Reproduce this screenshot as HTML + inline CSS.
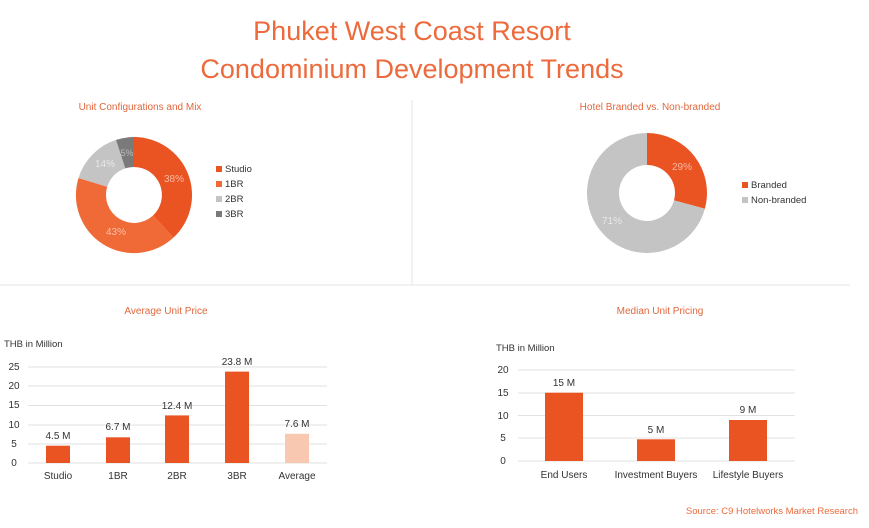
<!DOCTYPE html>
<html><head><meta charset="utf-8"><style>
body{margin:0;background:#fff;}
svg{display:block;font-family:"Liberation Sans",sans-serif;}
</style></head><body>
<svg width="869" height="528" viewBox="0 0 869 528">
<rect width="869" height="528" fill="#fff"/>
<text x="412" y="40" text-anchor="middle" font-size="27" fill="#ec6a3c">Phuket West Coast Resort</text>
<text x="412" y="78" text-anchor="middle" font-size="27" fill="#ec6a3c">Condominium Development Trends</text>
<line x1="412" y1="100" x2="412" y2="285" stroke="#e6e6e6"/>
<line x1="0" y1="285" x2="850" y2="285" stroke="#e6e6e6"/>
<text x="140" y="110" text-anchor="middle" font-size="10" fill="#e0673d">Unit Configurations and Mix</text>
<text x="650" y="110" text-anchor="middle" font-size="10" fill="#e0673d">Hotel Branded vs. Non-branded</text>
<text x="166" y="314" text-anchor="middle" font-size="10" fill="#e0673d">Average Unit Price</text>
<text x="660" y="314" text-anchor="middle" font-size="10" fill="#e0673d">Median Unit Pricing</text>
<g transform="translate(134,195)">
<path d="M0,-58 A58,58 0 0 1 39.4,42.6 L19,20.5 A28,28 0 0 0 0,-28Z" fill="#ea5423"/>
<path d="M39.4,42.6 A58,58 0 0 1 -55.5,-17 L-26.8,-8.2 A28,28 0 0 0 19,20.5Z" fill="#f06a38"/>
<path d="M-55.5,-17 A58,58 0 0 1 -18,-55.1 L-8.7,-26.6 A28,28 0 0 0 -26.8,-8.2Z" fill="#c4c4c4"/>
<path d="M-18,-55.1 A58,58 0 0 1 0,-58 L0,-28 A28,28 0 0 0 -8.7,-26.6Z" fill="#7a7a7a"/>
<text x="40" y="-13" font-size="10" fill="#f8b8a0" text-anchor="middle">38%</text>
<text x="-18" y="40" font-size="10" fill="#f8c0a8" text-anchor="middle">43%</text>
<text x="-29" y="-28" font-size="10" fill="#e8e8e8" text-anchor="middle">14%</text>
<text x="-7" y="-39" font-size="9" fill="#bbb" text-anchor="middle">5%</text>
</g>
<g font-size="9.5" fill="#333">
<rect x="216" y="166" width="6" height="6" fill="#ea5423"/><text x="225" y="172">Studio</text>
<rect x="216" y="181" width="6" height="6" fill="#f06a38"/><text x="225" y="187">1BR</text>
<rect x="216" y="196" width="6" height="6" fill="#c4c4c4"/><text x="225" y="202">2BR</text>
<rect x="216" y="211" width="6" height="6" fill="#7a7a7a"/><text x="225" y="217">3BR</text>
</g>
<g transform="translate(647,193)">
<path d="M0,-60 A60,60 0 0 1 57.9,15.8 L27,7.4 A28,28 0 0 0 0,-28Z" fill="#ea5423"/>
<path d="M57.9,15.8 A60,60 0 1 1 0,-60 L0,-28 A28,28 0 1 0 27,7.4Z" fill="#c4c4c4"/>
<text x="35" y="-23" font-size="10" fill="#f8b8a0" text-anchor="middle">29%</text>
<text x="-35" y="31" font-size="10" fill="#e8e8e8" text-anchor="middle">71%</text>
</g>
<g font-size="9.5" fill="#333">
<rect x="742" y="182" width="6" height="6" fill="#ea5423"/><text x="751" y="188">Branded</text>
<rect x="742" y="197" width="6" height="6" fill="#c4c4c4"/><text x="751" y="203">Non-branded</text>
</g>
<text x="4" y="347" font-size="9.5" fill="#333">THB in Million</text>
<g stroke="#e2e2e2" stroke-width="1">
<line x1="28" x2="327" y1="367" y2="367"/><line x1="28" x2="327" y1="386" y2="386"/><line x1="28" x2="327" y1="405.5" y2="405.5"/><line x1="28" x2="327" y1="425" y2="425"/><line x1="28" x2="327" y1="444" y2="444"/><line x1="28" x2="327" y1="463" y2="463"/>
</g>
<g font-size="10" fill="#333" text-anchor="middle">
<text x="14" y="370">25</text><text x="14" y="389">20</text><text x="14" y="408">15</text><text x="14" y="428">10</text><text x="14" y="447">5</text><text x="14" y="466">0</text>
</g>
<rect x="46" y="445.7" width="24" height="17.3" fill="#ea5423"/>
<rect x="106" y="437.3" width="24" height="25.7" fill="#ea5423"/>
<rect x="165" y="415.4" width="24" height="47.6" fill="#ea5423"/>
<rect x="225" y="371.6" width="24" height="91.4" fill="#ea5423"/>
<rect x="285" y="433.8" width="24" height="29.2" fill="#f8c8b0"/>
<g font-size="10" fill="#333" text-anchor="middle">
<text x="58" y="439">4.5 M</text><text x="118" y="430">6.7 M</text><text x="177" y="409">12.4 M</text><text x="237" y="365">23.8 M</text><text x="297" y="427">7.6 M</text>
<text x="58" y="479">Studio</text><text x="118" y="479">1BR</text><text x="177" y="479">2BR</text><text x="237" y="479">3BR</text><text x="297" y="479">Average</text>
</g>
<text x="496" y="351" font-size="9.5" fill="#333">THB in Million</text>
<g stroke="#e2e2e2" stroke-width="1">
<line x1="518" x2="795" y1="370" y2="370"/><line x1="518" x2="795" y1="393" y2="393"/><line x1="518" x2="795" y1="415.5" y2="415.5"/><line x1="518" x2="795" y1="438" y2="438"/><line x1="518" x2="795" y1="461" y2="461"/>
</g>
<g font-size="10" fill="#333" text-anchor="middle">
<text x="503" y="373">20</text><text x="503" y="396">15</text><text x="503" y="419">10</text><text x="503" y="441">5</text><text x="503" y="464">0</text>
</g>
<rect x="545" y="392.7" width="38" height="68.3" fill="#ea5423"/>
<rect x="637" y="439.3" width="38" height="21.7" fill="#ea5423"/>
<rect x="729" y="420" width="38" height="41" fill="#ea5423"/>
<g font-size="10" fill="#333" text-anchor="middle">
<text x="564" y="386">15 M</text><text x="656" y="433">5 M</text><text x="748" y="413">9 M</text>
<text x="564" y="478">End Users</text><text x="656" y="478">Investment Buyers</text><text x="748" y="478">Lifestyle Buyers</text>
</g>
<text x="858" y="514" text-anchor="end" font-size="9.5" fill="#ec6a3c">Source: C9 Hotelworks Market Research</text>
</svg>
</body></html>
